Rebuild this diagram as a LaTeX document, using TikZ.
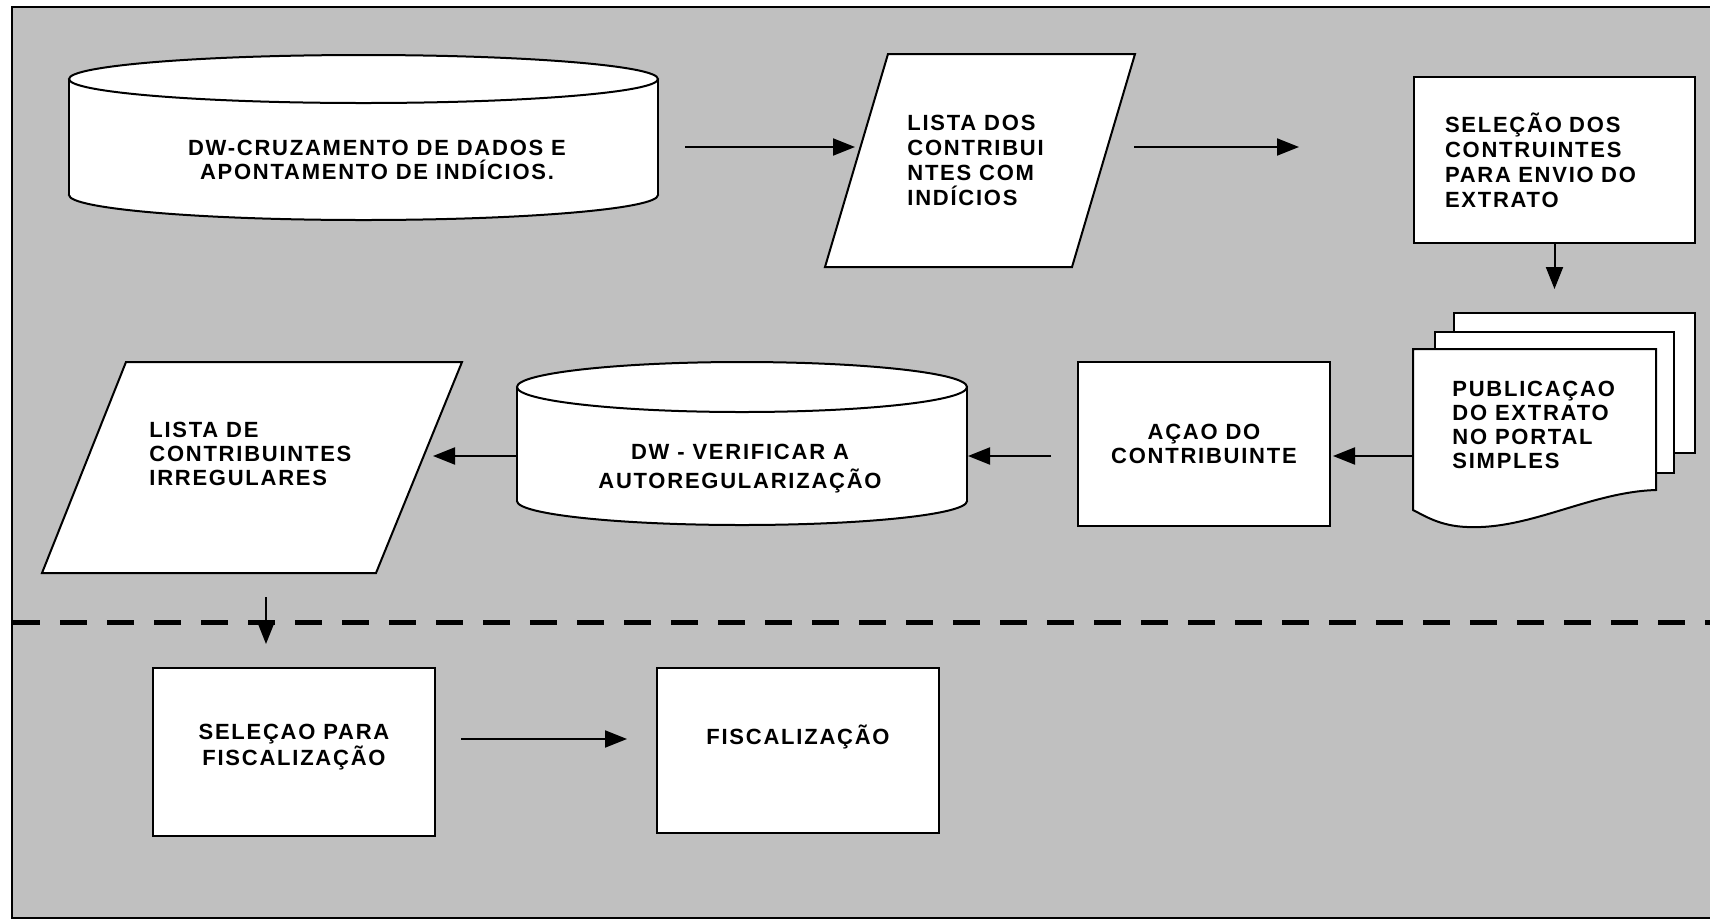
\documentclass[tikz,border=0pt]{standalone}
\usepackage{fontspec}
\setmainfont{Liberation Sans}[LetterSpace=8]
\usetikzlibrary{arrows.meta,calc}
\definecolor{bggray}{RGB}{192,192,192}
\begin{document}
\begin{tikzpicture}[x=0.5pt,y=-0.5pt,
  font=\fontsize{11pt}{12pt}\selectfont\bfseries,
  shp/.style={draw=black,fill=white,line width=1pt},
  box/.style={shp, inner sep=0pt, align=center},
  anchorbox/.style={inner sep=0pt, outer sep=0pt, draw=none},
  txt/.style={inner sep=0pt, align=left},
  arr/.style={line width=1pt, -{Triangle[length=11pt,width=8.5pt]}},
]
\useasboundingbox (0,0) rectangle (1710,923);
\clip (0,0) rectangle (1710,923);
\fill[white] (0,0) rectangle (1710,923);
\filldraw[fill=bggray, draw=black, line width=1pt] (12,7) rectangle (1730,918);

% divider
\draw[line width=2.5pt, dash pattern=on 13.5pt off 10pt] (13,622) -- (1710,622);

% cylinder 1
\filldraw[shp] (363.5,195) ellipse [x radius=294.5, y radius=25];
\fill[white] (69,79) rectangle (658,195);
\draw[line width=1pt] (69,79) -- (69,195) (658,79) -- (658,195);
\filldraw[shp] (363.5,79) ellipse [x radius=294.5, y radius=24];
\node[anchorbox, minimum width=294.5pt, minimum height=82.5pt] (cyl1) at (363.5,137.5) {};
\node[txt, align=center] (cyl1t) at (377,159.5) {DW-CRUZAMENTO DE DADOS E\\APONTAMENTO DE INDÍCIOS.};

% parallelogram 1
\filldraw[shp] (888,54) -- (1135,54) -- (1072,267) -- (825,267) -- cycle;
\node[anchorbox, minimum width=155pt, minimum height=106.5pt] (par1) at (980,160.5) {};
\node[txt, anchor=west] (par1t) at (907,160) {LISTA DOS\\[0.5pt]CONTRIBUI\\[0.5pt]NTES COM\\[0.5pt]INDÍCIOS};

% box 3
\node[box, minimum width=140.5pt, minimum height=83pt, text width=109.5pt, align=left] (box3) at (1554.5,160) {SELEÇÃO DOS\\[0.5pt]CONTRUINTES\\[0.5pt]PARA ENVIO DO\\[0.5pt]EXTRATO\\[-2pt]};

% multi-document
\filldraw[shp] (1454,313) rectangle (1695,453);
\filldraw[shp] (1435,332) rectangle (1674,473);
\filldraw[shp] (1413,349) -- (1656,349) -- (1656,490) .. controls (1590,492) and (1530,530) .. (1467,527) .. controls (1440,526) and (1425,516) .. (1413,510) -- cycle;
\node[anchorbox, minimum width=141pt, minimum height=107pt] (pub) at (1554,420) {};
\node[txt, anchor=west] (pubt) at (1452,425) {PUBLICAÇAO\\DO EXTRATO\\NO PORTAL\\SIMPLES};

% acao box
\node[box, minimum width=126pt, minimum height=82pt] (acao) at (1204,444) {AÇAO DO\\CONTRIBUINTE};

% cylinder 2
\filldraw[shp] (742,501) ellipse [x radius=225, y radius=24];
\fill[white] (517,387) rectangle (967,501);
\draw[line width=1pt] (517,387) -- (517,501) (967,387) -- (967,501);
\filldraw[shp] (742,387) ellipse [x radius=225, y radius=25];
\node[anchorbox, minimum width=225pt, minimum height=81.5pt] (cyl2) at (742,443.5) {};
\node[txt, align=center] (cyl2t) at (740,469) {DW - VERIFICAR A\\[2.5pt]AUTOREGULARIZAÇÃO};

% parallelogram 2
\filldraw[shp] (126,362) -- (462,362) -- (376,573) -- (42,573) -- cycle;
\node[anchorbox, minimum width=210pt, minimum height=105.5pt] (par2) at (252,467.5) {};
\node[txt, anchor=west] (par2t) at (149,454) {LISTA DE\\CONTRIBUINTES\\IRREGULARES};

% bottom boxes
\node[box, minimum width=141pt, minimum height=84pt, text depth=7pt] (sel) at (294,752) {SELEÇAO PARA\\FISCALIZAÇÃO};
\node[box, minimum width=141pt, minimum height=82.5pt, text height=10pt, text depth=16pt] (fisc) at (798,750.5) {FISCALIZAÇÃO};

% connectors
\draw[arr] ($(cyl1.east)+(27,9.5)$) -- ($(par1.west)+(30,-13.5)$);
\draw[arr] ($(par1.east)+(-1,-13.5)$) -- ($(box3.west)+(-114,-13)$);
\draw[arr, shorten >=12pt] (box3.south) -- (box3.south |- pub.north);
\draw[arr] ($(pub.west)+(0,36)$) -- ($(acao.east)+(2,12)$);
\draw[arr] ($(acao.west)+(-26,12)$) -- ($(cyl2.east)+(1,12.5)$);
\draw[arr] ($(cyl2.west)+(0,12.5)$) -- ($(par2.east)+(-29,-11.5)$);
\draw[arr] ($(par2.south)+(14,24)$) -- ($(sel.north)+(-28,-23)$);
\draw[arr] ($(sel.east)+(25,-13)$) -- ($(fisc.west)+(-29,-11.5)$);
\end{tikzpicture}
\end{document}
